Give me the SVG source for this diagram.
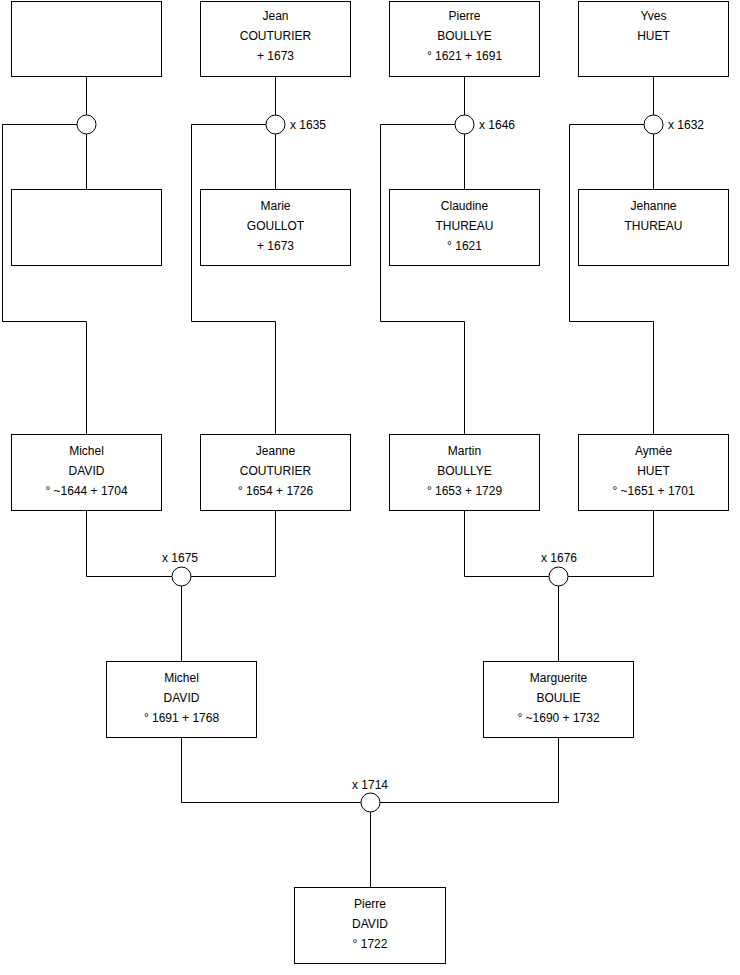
<svg xmlns="http://www.w3.org/2000/svg" width="740" height="975" viewBox="0 0 740 975">
<style>
.box{fill:#fff;stroke:#000;stroke-width:1}
.c{fill:#fff;stroke:#000;stroke-width:1}
.ln{fill:none;stroke:#000;stroke-width:1}
text{font-family:"Liberation Sans",Arial,sans-serif;font-size:12px;fill:#000}
.m{text-anchor:middle}
</style>
<rect width="740" height="975" fill="#fff"/>
<g id="connectors">
<path class="ln" d="M86.5 76V189M86.5 124.5H2.5V321.5H86.5V434"/>
<path class="ln" d="M275.5 76V189M275.5 124.5H191.5V321.5H275.5V434"/>
<path class="ln" d="M464.5 76V189M464.5 124.5H380.5V321.5H464.5V434"/>
<path class="ln" d="M653.5 76V189M653.5 124.5H569.5V321.5H653.5V434"/>
<path class="ln" d="M86.5 510V576.5H275.5V510M181.5 576.5V661"/>
<path class="ln" d="M464.5 510V576.5H653.5V510M558.5 576.5V661"/>
<path class="ln" d="M181.5 737V802.5H558.5V737M370.5 802.5V887"/>
</g>
<g id="u1"><circle class="c" cx="86.5" cy="124.5" r="9.5"/></g>
<g id="u2"><circle class="c" cx="275.5" cy="124.5" r="9.5"/><text x="290" y="128.5">x 1635</text></g>
<g id="u3"><circle class="c" cx="464.5" cy="124.5" r="9.5"/><text x="479" y="128.5">x 1646</text></g>
<g id="u4"><circle class="c" cx="653.5" cy="124.5" r="9.5"/><text x="668" y="128.5">x 1632</text></g>
<g id="u5"><circle class="c" cx="181.5" cy="576.5" r="9.5"/><text class="m" x="180" y="562">x 1675</text></g>
<g id="u6"><circle class="c" cx="558.5" cy="576.5" r="9.5"/><text class="m" x="559" y="562">x 1676</text></g>
<g id="u7"><circle class="c" cx="370.5" cy="802.5" r="9.5"/><text class="m" x="370" y="789">x 1714</text></g>

<g id="n1"><rect class="box" x="11.5" y="1.5" width="150" height="75"/></g>
<g id="n2"><rect class="box" x="200.5" y="1.5" width="150" height="75"/><text class="m" x="275.5" y="19.5">Jean</text><text class="m" x="275.5" y="39.5">COUTURIER</text><text class="m" x="275.5" y="59.5">+ 1673</text></g>
<g id="n3"><rect class="box" x="389.5" y="1.5" width="150" height="75"/><text class="m" x="464.5" y="19.5">Pierre</text><text class="m" x="464.5" y="39.5">BOULLYE</text><text class="m" x="464.5" y="59.5">° 1621 + 1691</text></g>
<g id="n4"><rect class="box" x="578.5" y="1.5" width="150" height="75"/><text class="m" x="653.5" y="19.5">Yves</text><text class="m" x="653.5" y="39.5">HUET</text></g>

<g id="n5"><rect class="box" x="11.5" y="189.5" width="150" height="76"/></g>
<g id="n6"><rect class="box" x="200.5" y="189.5" width="150" height="76"/><text class="m" x="275.5" y="209.5">Marie</text><text class="m" x="275.5" y="229.5">GOULLOT</text><text class="m" x="275.5" y="249.5">+ 1673</text></g>
<g id="n7"><rect class="box" x="389.5" y="189.5" width="150" height="76"/><text class="m" x="464.5" y="209.5">Claudine</text><text class="m" x="464.5" y="229.5">THUREAU</text><text class="m" x="464.5" y="249.5">° 1621</text></g>
<g id="n8"><rect class="box" x="578.5" y="189.5" width="150" height="76"/><text class="m" x="653.5" y="209.5">Jehanne</text><text class="m" x="653.5" y="229.5">THUREAU</text></g>

<g id="n9"><rect class="box" x="11.5" y="434.5" width="150" height="76"/><text class="m" x="86.5" y="454.5">Michel</text><text class="m" x="86.5" y="474.5">DAVID</text><text class="m" x="86.5" y="494.5">° ~1644 + 1704</text></g>
<g id="n10"><rect class="box" x="200.5" y="434.5" width="150" height="76"/><text class="m" x="275.5" y="454.5">Jeanne</text><text class="m" x="275.5" y="474.5">COUTURIER</text><text class="m" x="275.5" y="494.5">° 1654 + 1726</text></g>
<g id="n11"><rect class="box" x="389.5" y="434.5" width="150" height="76"/><text class="m" x="464.5" y="454.5">Martin</text><text class="m" x="464.5" y="474.5">BOULLYE</text><text class="m" x="464.5" y="494.5">° 1653 + 1729</text></g>
<g id="n12"><rect class="box" x="578.5" y="434.5" width="150" height="76"/><text class="m" x="653.5" y="454.5">Aymée</text><text class="m" x="653.5" y="474.5">HUET</text><text class="m" x="653.5" y="494.5">° ~1651 + 1701</text></g>

<g id="n13"><rect class="box" x="106.5" y="661.5" width="150" height="76"/><text class="m" x="181.5" y="681.5">Michel</text><text class="m" x="181.5" y="701.5">DAVID</text><text class="m" x="181.5" y="721.5">° 1691 + 1768</text></g>
<g id="n14"><rect class="box" x="483.5" y="661.5" width="150" height="76"/><text class="m" x="558.5" y="681.5">Marguerite</text><text class="m" x="558.5" y="701.5">BOULIE</text><text class="m" x="558.5" y="721.5">° ~1690 + 1732</text></g>

<g id="n15"><rect class="box" x="294.5" y="887.5" width="151" height="76"/><text class="m" x="370" y="907.5">Pierre</text><text class="m" x="370" y="927.5">DAVID</text><text class="m" x="370" y="947.5">° 1722</text></g>
</svg>
